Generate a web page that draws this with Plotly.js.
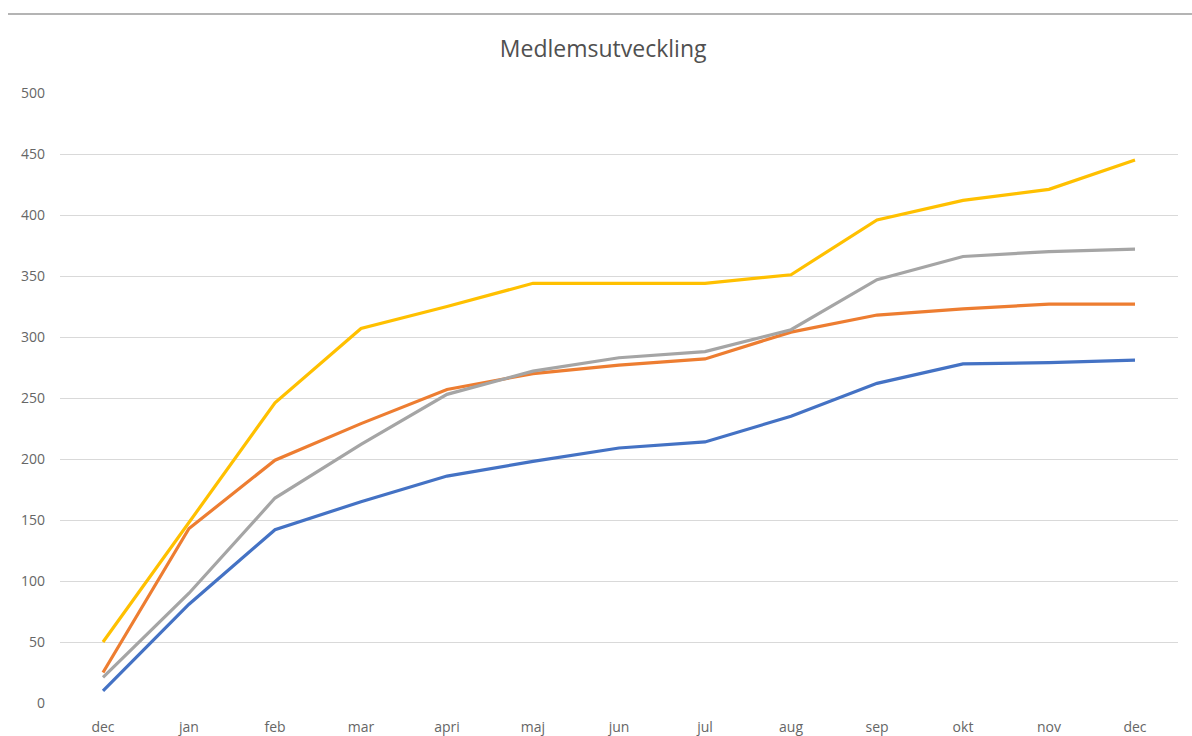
<!DOCTYPE html>
<html>
<head>
<meta charset="utf-8">
<script src="https://cdn.plot.ly/plotly-3.0.1.min.js"></script>
<style>
  html, body { margin: 0; padding: 0; background: #ffffff; }
  #chart { width: 1192px; height: 736px; }
</style>
</head>
<body>
<div id="chart"></div>
<script>
const months = ["dec", "jan", "feb", "mar", "apri", "maj", "jun", "jul", "aug", "sep", "okt", "nov", "dec"];
const serie1 = [10, 81, 142, 165, 186, 198, 209, 214, 235, 262, 278, 279, 281];
const serie2 = [25, 143, 199, 229, 257, 270, 277, 282, 304, 318, 323, 327, 327];
const serie3 = [21, 90, 168, 212, 253, 272, 283, 288, 306, 347, 366, 370, 372];
const serie4 = [50, 148, 246, 307, 325, 344, 344, 344, 351, 396, 412, 421, 445];
const yTicks = [0, 50, 100, 150, 200, 250, 300, 350, 400, 450, 500];

const xIdx = months.map((m, i) => i);
const seriesList = [
  { name: "Serie1", y: serie1, color: "#4472C4" },
  { name: "Serie2", y: serie2, color: "#ED7D31" },
  { name: "Serie3", y: serie3, color: "#A5A5A5" },
  { name: "Serie4", y: serie4, color: "#FFC000" }
];

const traces = seriesList.map(s => ({
  type: "scatter",
  mode: "lines",
  name: s.name,
  x: xIdx,
  y: s.y,
  line: { color: s.color, width: 3.2 },
  hoverinfo: "x+y"
}));

const layout = {
  width: 1192,
  height: 736,
  paper_bgcolor: "#ffffff",
  plot_bgcolor: "#ffffff",
  showlegend: false,
  margin: { l: 60, r: 14, t: 93, b: 33 },
  font: { family: "Open Sans, Noto Sans, sans-serif", color: "#595959" },
  title: {
    text: "Medlemsutveckling",
    font: { family: "Open Sans, Noto Sans, sans-serif", size: 23, color: "#505050" },
    x: 0.506,
    xanchor: "center",
    y: 0.933,
    yanchor: "middle"
  },
  xaxis: {
    range: [-0.5, months.length - 0.5],
    tickmode: "array",
    tickvals: xIdx,
    ticktext: months,
    showgrid: false,
    zeroline: false,
    showline: false,
    ticks: "",
    ticklabelstandoff: 14,
    tickfont: { size: 14, color: "#666666" },
    fixedrange: true
  },
  yaxis: {
    range: [0, 500],
    tickmode: "array",
    tickvals: yTicks,
    ticktext: yTicks.map(String),
    showgrid: true,
    gridcolor: "#d9d9d9",
    gridwidth: 1,
    zeroline: false,
    showline: false,
    ticks: "",
    ticklabelstandoff: 14,
    tickfont: { size: 14, color: "#666666" },
    fixedrange: true
  },
  shapes: [
    {
      type: "line",
      xref: "paper",
      yref: "paper",
      x0: -0.0465,
      x1: 1.0125,
      y0: 1.1295,
      y1: 1.1295,
      line: { color: "#b4b4b4", width: 2 }
    }
  ]
};

Plotly.newPlot("chart", traces, layout, { displayModeBar: false, staticPlot: true });
</script>
</body>
</html>
